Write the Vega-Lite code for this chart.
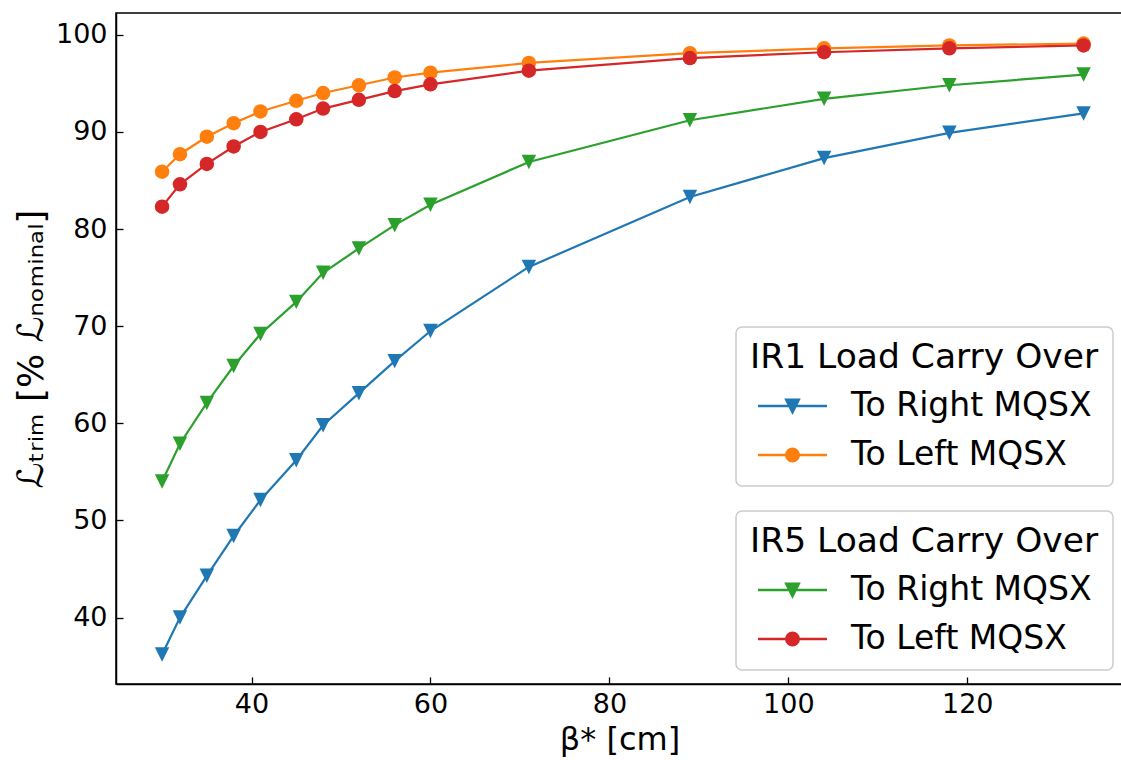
{
"$schema": "https://vega.github.io/schema/vega-lite/v6.json",
"width": 1007, "height": 671,
"autosize": {"type": "none"},
"padding": {"left": 116, "top": 13, "right": 0, "bottom": 76},
"background": "white",
"config": {
  "font": "DejaVu Sans",
  "view": {"stroke": "black", "strokeWidth": 1.5},
  "axis": {"domainColor": "black", "domainWidth": 1.5, "tickColor": "black", "tickWidth": 1.3, "tickSize": -7, "labelFontSize": 27, "labelColor": "black", "titleFontSize": 32, "titleFontWeight": "normal", "titleColor": "black", "grid": false, "labelFont": "DejaVu Sans", "titleFont": "DejaVu Sans"},
  "legend": {"titleFontSize": 34.5, "labelFontSize": 33, "titleFontWeight": "normal", "titleColor": "black", "labelColor": "black", "titleFont": "DejaVu Sans", "labelFont": "DejaVu Sans", "padding": 14, "strokeColor": "#cccccc", "cornerRadius": 6, "fillColor": "white", "strokeWidth": 1.5, "titlePadding": 14, "rowPadding": 15, "labelOffset": 42, "symbolOffset": 26, "labelLimit": 500, "titleLimit": 500}
},
"data": {"values": [
{"ir":"IR1","dir":"To Right MQSX","beta":30,"lumi":36.2},
{"ir":"IR1","dir":"To Right MQSX","beta":32,"lumi":40.0},
{"ir":"IR1","dir":"To Right MQSX","beta":35,"lumi":44.3},
{"ir":"IR1","dir":"To Right MQSX","beta":38,"lumi":48.4},
{"ir":"IR1","dir":"To Right MQSX","beta":41,"lumi":52.1},
{"ir":"IR1","dir":"To Right MQSX","beta":45,"lumi":56.2},
{"ir":"IR1","dir":"To Right MQSX","beta":48,"lumi":59.8},
{"ir":"IR1","dir":"To Right MQSX","beta":52,"lumi":63.1},
{"ir":"IR1","dir":"To Right MQSX","beta":56,"lumi":66.4},
{"ir":"IR1","dir":"To Right MQSX","beta":60,"lumi":69.5},
{"ir":"IR1","dir":"To Right MQSX","beta":71,"lumi":76.1},
{"ir":"IR1","dir":"To Right MQSX","beta":89,"lumi":83.3},
{"ir":"IR1","dir":"To Right MQSX","beta":104,"lumi":87.3},
{"ir":"IR1","dir":"To Right MQSX","beta":118,"lumi":89.9},
{"ir":"IR1","dir":"To Right MQSX","beta":133,"lumi":91.9},
{"ir":"IR1","dir":"To Left MQSX","beta":30,"lumi":85.9},
{"ir":"IR1","dir":"To Left MQSX","beta":32,"lumi":87.7},
{"ir":"IR1","dir":"To Left MQSX","beta":35,"lumi":89.5},
{"ir":"IR1","dir":"To Left MQSX","beta":38,"lumi":90.9},
{"ir":"IR1","dir":"To Left MQSX","beta":41,"lumi":92.1},
{"ir":"IR1","dir":"To Left MQSX","beta":45,"lumi":93.2},
{"ir":"IR1","dir":"To Left MQSX","beta":48,"lumi":94.0},
{"ir":"IR1","dir":"To Left MQSX","beta":52,"lumi":94.8},
{"ir":"IR1","dir":"To Left MQSX","beta":56,"lumi":95.6},
{"ir":"IR1","dir":"To Left MQSX","beta":60,"lumi":96.1},
{"ir":"IR1","dir":"To Left MQSX","beta":71,"lumi":97.1},
{"ir":"IR1","dir":"To Left MQSX","beta":89,"lumi":98.1},
{"ir":"IR1","dir":"To Left MQSX","beta":104,"lumi":98.6},
{"ir":"IR1","dir":"To Left MQSX","beta":118,"lumi":98.9},
{"ir":"IR1","dir":"To Left MQSX","beta":133,"lumi":99.1},
{"ir":"IR5","dir":"To Right MQSX","beta":30,"lumi":54.0},
{"ir":"IR5","dir":"To Right MQSX","beta":32,"lumi":57.9},
{"ir":"IR5","dir":"To Right MQSX","beta":35,"lumi":62.1},
{"ir":"IR5","dir":"To Right MQSX","beta":38,"lumi":65.9},
{"ir":"IR5","dir":"To Right MQSX","beta":41,"lumi":69.2},
{"ir":"IR5","dir":"To Right MQSX","beta":45,"lumi":72.5},
{"ir":"IR5","dir":"To Right MQSX","beta":48,"lumi":75.5},
{"ir":"IR5","dir":"To Right MQSX","beta":52,"lumi":78.0},
{"ir":"IR5","dir":"To Right MQSX","beta":56,"lumi":80.4},
{"ir":"IR5","dir":"To Right MQSX","beta":60,"lumi":82.5},
{"ir":"IR5","dir":"To Right MQSX","beta":71,"lumi":86.9},
{"ir":"IR5","dir":"To Right MQSX","beta":89,"lumi":91.2},
{"ir":"IR5","dir":"To Right MQSX","beta":104,"lumi":93.4},
{"ir":"IR5","dir":"To Right MQSX","beta":118,"lumi":94.8},
{"ir":"IR5","dir":"To Right MQSX","beta":133,"lumi":95.9},
{"ir":"IR5","dir":"To Left MQSX","beta":30,"lumi":82.3},
{"ir":"IR5","dir":"To Left MQSX","beta":32,"lumi":84.6},
{"ir":"IR5","dir":"To Left MQSX","beta":35,"lumi":86.7},
{"ir":"IR5","dir":"To Left MQSX","beta":38,"lumi":88.5},
{"ir":"IR5","dir":"To Left MQSX","beta":41,"lumi":90.0},
{"ir":"IR5","dir":"To Left MQSX","beta":45,"lumi":91.3},
{"ir":"IR5","dir":"To Left MQSX","beta":48,"lumi":92.4},
{"ir":"IR5","dir":"To Left MQSX","beta":52,"lumi":93.3},
{"ir":"IR5","dir":"To Left MQSX","beta":56,"lumi":94.2},
{"ir":"IR5","dir":"To Left MQSX","beta":60,"lumi":94.9},
{"ir":"IR5","dir":"To Left MQSX","beta":71,"lumi":96.3},
{"ir":"IR5","dir":"To Left MQSX","beta":89,"lumi":97.6},
{"ir":"IR5","dir":"To Left MQSX","beta":104,"lumi":98.2},
{"ir":"IR5","dir":"To Left MQSX","beta":118,"lumi":98.6},
{"ir":"IR5","dir":"To Left MQSX","beta":133,"lumi":98.9}
]},
"encoding": {
  "x": {"field": "beta", "type": "quantitative", "scale": {"domain": [24.85, 137.41], "nice": false, "zero": false}, "axis": {"values": [40, 60, 80, 100, 120], "format": "d", "title": "β* [cm]", "labelPadding": 14, "titlePadding": 7}},
  "y": {"field": "lumi", "type": "quantitative", "scale": {"domain": [33.16, 102.24], "nice": false, "zero": false}, "axis": {"values": [40, 50, 60, 70, 80, 90, 100], "format": "d", "title": "ℒₜᵣᵢₘ [% ℒₙₒₘᵢₙₐₗ]", "titleFontSize": 36, "labelPadding": 16, "titlePadding": 5}}
},
"layer": [
  {
    "transform": [{"filter": "datum.ir === 'IR1'"}],
    "encoding": {
      "color": {"field": "dir", "type": "nominal", "scale": {"domain": ["To Right MQSX", "To Left MQSX"], "range": ["#1f77b4", "#ff7f0e"]},
        "legend": {"title": "IR1 Load Carry Over", "orient": "none", "legendX": 620, "legendY": 314,
          "encode": {"symbols": {"update": {
            "stroke": {"signal": "datum.value === 'To Right MQSX' ? '#1f77b4' : '#ff7f0e'"},
            "fill": {"signal": "datum.value === 'To Right MQSX' ? '#1f77b4' : '#ff7f0e'"},
            "strokeWidth": {"value": 2.5}, "size": {"value": 625}, "opacity": {"value": 1}}}}}}
    },
    "layer": [
      {"mark": {"type": "line", "strokeWidth": 2.2}},
      {"transform": [{"filter": "datum.dir === 'To Right MQSX'"}], "mark": {"type": "point", "filled": true, "size": 210, "opacity": 1, "shape": "M-1,-1L1,-1L0,1Z"}},
      {"transform": [{"filter": "datum.dir === 'To Left MQSX'"}], "mark": {"type": "point", "filled": true, "size": 210, "opacity": 1, "shape": "circle"}},
      {"transform": [{"filter": "datum.beta < 0"}], "mark": {"type": "point", "filled": true},
       "encoding": {"shape": {"field": "dir", "type": "nominal", "scale": {"domain": ["To Right MQSX", "To Left MQSX"], "range": ["M-2.76,0L2.76,0M-0.5,-0.5L0.5,-0.5L0,0.5Z", "M-2.76,0L2.76,0M-0.5,0A0.5,0.5 0 1,0 0.5,0A0.5,0.5 0 1,0 -0.5,0Z"]}}}}
    ]
  },
  {
    "transform": [{"filter": "datum.ir === 'IR5'"}],
    "encoding": {
      "color": {"field": "dir", "type": "nominal", "scale": {"domain": ["To Right MQSX", "To Left MQSX"], "range": ["#2ca02c", "#d62728"]},
        "legend": {"title": "IR5 Load Carry Over", "orient": "none", "legendX": 620, "legendY": 498,
          "encode": {"symbols": {"update": {
            "stroke": {"signal": "datum.value === 'To Right MQSX' ? '#2ca02c' : '#d62728'"},
            "fill": {"signal": "datum.value === 'To Right MQSX' ? '#2ca02c' : '#d62728'"},
            "strokeWidth": {"value": 2.5}, "size": {"value": 625}, "opacity": {"value": 1}}}}}}
    },
    "layer": [
      {"mark": {"type": "line", "strokeWidth": 2.2}},
      {"transform": [{"filter": "datum.dir === 'To Right MQSX'"}], "mark": {"type": "point", "filled": true, "size": 210, "opacity": 1, "shape": "M-1,-1L1,-1L0,1Z"}},
      {"transform": [{"filter": "datum.dir === 'To Left MQSX'"}], "mark": {"type": "point", "filled": true, "size": 210, "opacity": 1, "shape": "circle"}},
      {"transform": [{"filter": "datum.beta < 0"}], "mark": {"type": "point", "filled": true},
       "encoding": {"shape": {"field": "dir", "type": "nominal", "scale": {"domain": ["To Right MQSX", "To Left MQSX"], "range": ["M-2.76,0L2.76,0M-0.5,-0.5L0.5,-0.5L0,0.5Z", "M-2.76,0L2.76,0M-0.5,0A0.5,0.5 0 1,0 0.5,0A0.5,0.5 0 1,0 -0.5,0Z"]}}}}
    ]
  }
],
"resolve": {"scale": {"color": "independent", "shape": "independent"}}
}
